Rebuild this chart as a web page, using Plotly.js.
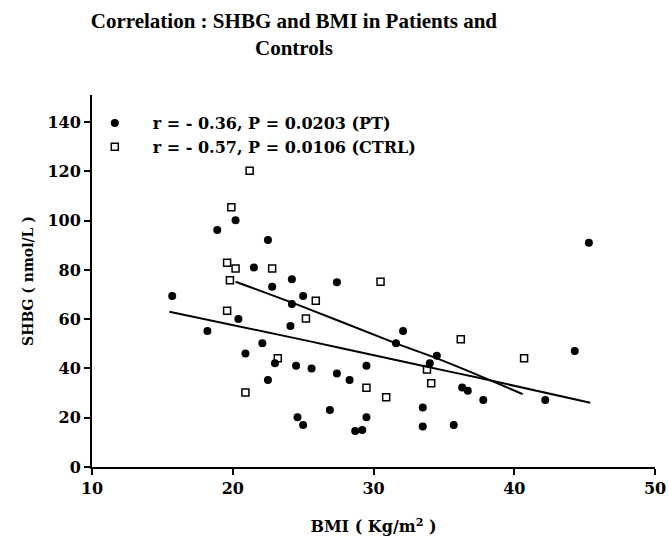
<!DOCTYPE html>
<html>
<head>
<meta charset="utf-8">
<script src="https://cdn.plot.ly/plotly-3.0.1.min.js"></script>
<style>html,body{margin:0;padding:0;background:#fff;}#chart{width:668px;height:552px;}</style>
</head>
<body>
<div id="chart"></div>
<script>
// Patients (PT) – filled circles
const ptBMI  = [15.7, 20.2, 18.9, 22.5, 21.5, 24.2, 22.8, 25.0, 24.2, 20.4, 18.2, 24.1, 22.1, 20.9, 23.0, 24.5, 25.6, 22.5, 24.6, 25.0,
                27.4, 32.1, 31.6, 34.5, 34.0, 27.4, 28.3, 29.5, 36.3, 36.7, 26.9, 29.5, 28.7, 29.2, 33.5, 33.5, 35.7, 45.3, 44.3, 37.8, 42.2];
const ptSHBG = [69.4, 100.2, 96.2, 92.1, 81.0, 76.2, 73.2, 69.4, 66.2, 60.1, 55.2, 57.2, 50.2, 46.1, 42.1, 41.1, 40.0, 35.3, 20.2, 17.0,
                75.0, 55.2, 50.2, 45.2, 42.1, 38.0, 35.3, 41.1, 32.3, 31.0, 23.1, 20.2, 14.6, 15.0, 24.2, 16.4, 17.0, 91.0, 47.1, 27.2, 27.2];
// Controls (CTRL) – open squares
const ctrlBMI  = [21.2, 19.9, 19.6, 20.2, 22.8, 19.8, 25.9, 19.6, 25.2, 23.2, 20.9, 30.5, 36.2, 33.8, 29.5, 30.9, 34.1, 40.7];
const ctrlSHBG = [120.3, 105.4, 82.9, 80.6, 80.6, 75.8, 67.5, 63.4, 60.3, 44.1, 30.2, 75.2, 51.9, 39.6, 32.2, 28.3, 34.0, 44.1];
// Fit lines
const ptFitBMI  = [15.5, 25.0, 33.8, 37.3, 45.4];
const ptFitSHBG = [63.0, 51.6, 40.7, 36.4, 26.1];
const ctrlFitBMI  = [20.2, 25.0, 31.6, 35.0, 40.6];
const ctrlFitSHBG = [75.2, 65.0, 50.2, 43.0, 29.6];
// Labels
const ptLabel = "r = - 0.36, P = 0.0203 (PT)";
const ctrlLabel = "r = - 0.57, P = 0.0106 (CTRL)";
const xTicks = [10, 20, 30, 40, 50];
const yTicks = [0, 20, 40, 60, 80, 100, 120, 140];

const serif = "Liberation Serif, Times New Roman, serif";
const wide = "DejaVu Serif, serif";

const traces = [
  {x: ptBMI, y: ptSHBG, name: ptLabel, type: "scatter", mode: "markers",
   marker: {symbol: "circle", size: 8, color: "#000"}},
  {x: ctrlBMI, y: ctrlSHBG, name: ctrlLabel, type: "scatter", mode: "markers",
   marker: {symbol: "square-open", size: 7, color: "#000", line: {width: 1.5, color: "#000"}}},
  {x: ptFitBMI, y: ptFitSHBG, type: "scatter", mode: "lines", showlegend: false, hoverinfo: "skip",
   line: {color: "#000", width: 2, shape: "spline"}},
  {x: ctrlFitBMI, y: ctrlFitSHBG, type: "scatter", mode: "lines", showlegend: false, hoverinfo: "skip",
   line: {color: "#000", width: 2, shape: "spline"}}
];

const layout = {
  width: 668, height: 552,
  paper_bgcolor: "#fff", plot_bgcolor: "#fff",
  margin: {l: 92, r: 13, t: 95, b: 85},
  title: {text: "Correlation : SHBG and BMI in Patients and<br>Controls",
          x: 0.44, xanchor: "center", yref: "container", y: 0.95, yanchor: "top",
          font: {family: serif, size: 21, weight: "bold", color: "#000"}},
  showlegend: true,
  legend: {x: -0.027, y: 0.97, xanchor: "left", yanchor: "top", bgcolor: "rgba(0,0,0,0)",
           font: {family: wide, size: 16, weight: "bold", color: "#000"},
           tracegroupgap: 0, itemwidth: 66},
  xaxis: {range: [10, 50], tickvals: xTicks, ticktext: xTicks.map(String),
          showline: true, linewidth: 2, linecolor: "#000", ticks: "outside", ticklen: 6, tickwidth: 2,
          tickcolor: "#000", showgrid: false, zeroline: false,
          tickfont: {family: wide, size: 16, weight: "bold", color: "#000"},
          title: {text: "BMI ( Kg/m<sup>2</sup> )", standoff: 24,
                  font: {family: wide, size: 16, weight: "bold", color: "#000"}}},
  yaxis: {range: [0, 151], tickvals: yTicks, ticktext: yTicks.map(String),
          showline: true, linewidth: 2, linecolor: "#000", ticks: "outside", ticklen: 6, tickwidth: 2,
          tickcolor: "#000", showgrid: false, zeroline: false,
          tickfont: {family: wide, size: 16, weight: "bold", color: "#000"},
          title: {text: "SHBG ( nmol/L )", standoff: 10,
                  font: {family: wide, size: 14, weight: "bold", color: "#000"}}}
};

Plotly.newPlot("chart", traces, layout, {displayModeBar: false, staticPlot: true});
</script>
</body>
</html>
